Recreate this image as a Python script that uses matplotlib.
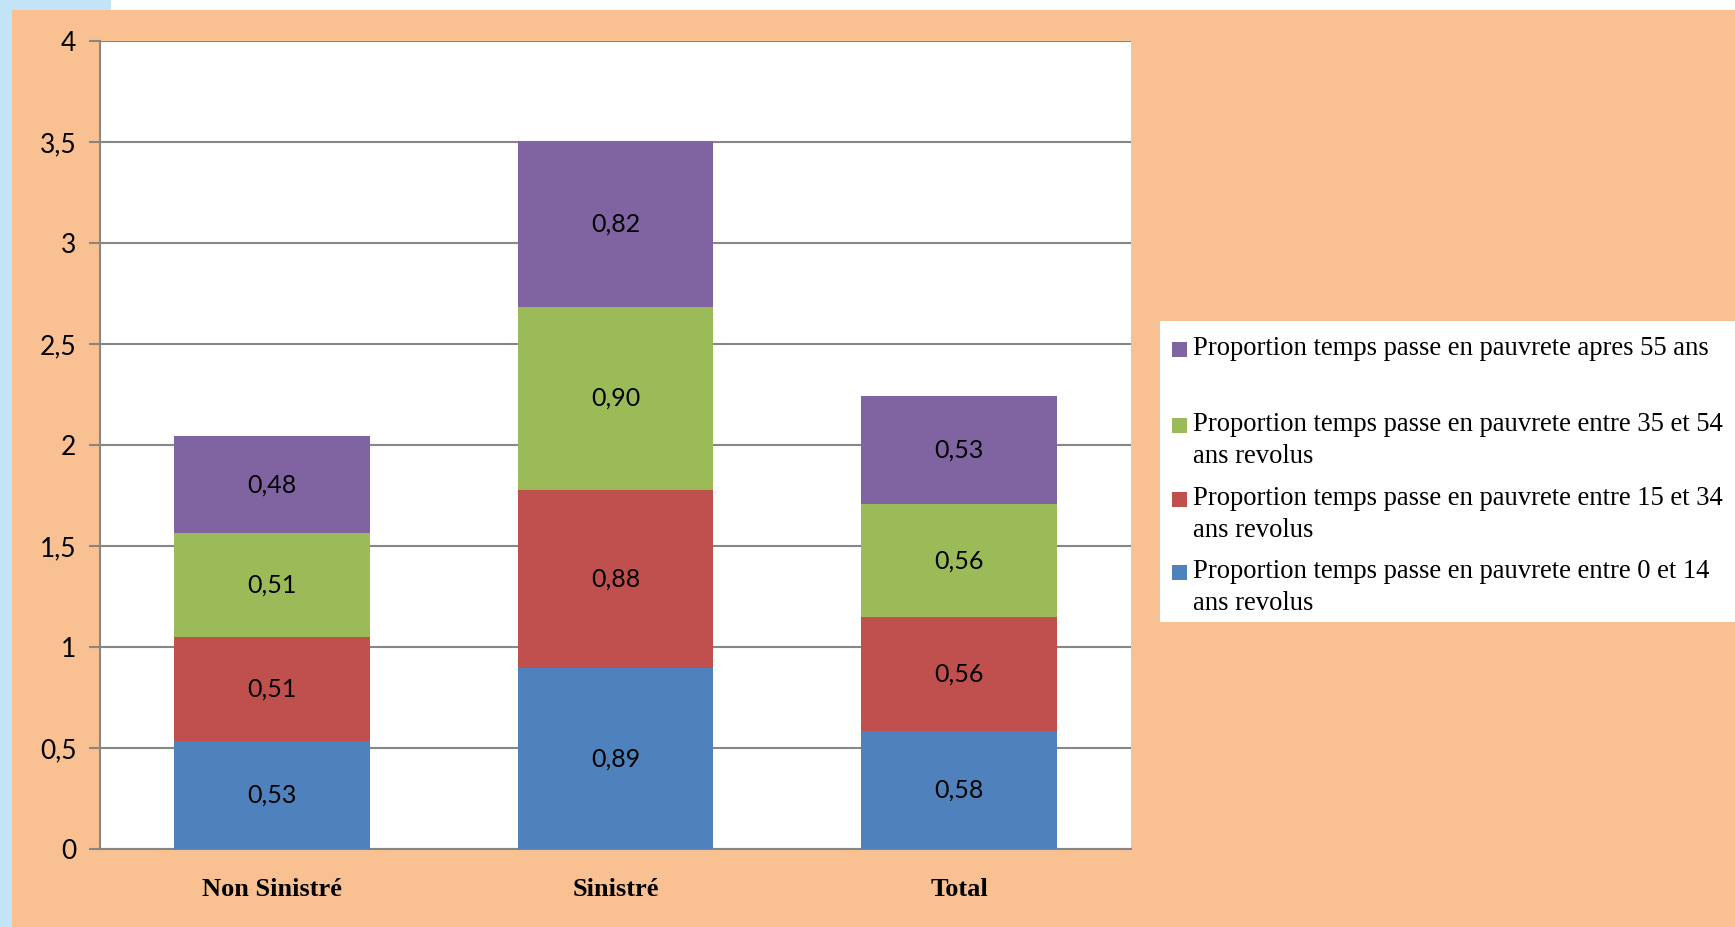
import matplotlib
matplotlib.use("Agg")
import matplotlib.pyplot as plt
from matplotlib.patches import Rectangle, Circle
import numpy as np

categories = ["Non Sinistré", "Sinistré", "Total"]
series_labels = [
    "Proportion temps passe en pauvrete entre 0 et 14\nans revolus",
    "Proportion temps passe en pauvrete entre 15 et 34\nans revolus",
    "Proportion temps passe en pauvrete entre 35 et 54\nans revolus",
    "Proportion temps passe en pauvrete apres 55 ans",
]
v_0_14 = [0.534, 0.894, 0.584]
v_15_34 = [0.514, 0.884, 0.564]
v_35_54 = [0.514, 0.904, 0.559]
v_55 = [0.484, 0.824, 0.534]
series = [v_0_14, v_15_34, v_35_54, v_55]
colors = ["#4F81BD", "#C0504D", "#9BBB59", "#8064A2"]
yticks = [0, 0.5, 1, 1.5, 2, 2.5, 3, 3.5, 4]

W, H = 1735, 927
fig = plt.figure(figsize=(W / 100, H / 100), dpi=100, facecolor="white")

# background decorations
def px_rect(x0, y0, x1, y1, color, z=0):
    fig.patches.append(Rectangle((x0 / W, 1 - y1 / H), (x1 - x0) / W, (y1 - y0) / H,
                                 transform=fig.transFigure, facecolor=color,
                                 edgecolor="none", zorder=z))

px_rect(0, 0, 12, H, "#C3E4F6", z=-3)
px_rect(0, 0, 111, 10, "#C3E4F6", z=-3)
px_rect(12, 10, W, H, "#F9C192", z=-2)

ax = fig.add_axes([100 / W, 1 - 849 / H, (1131 - 100) / W, (849 - 41) / H])
ax.set_zorder(5)
ax.set_facecolor("white")

x = np.arange(len(categories))
bottom = np.zeros(len(categories))
for vals, col in zip(series, colors):
    vals = np.array(vals)
    ax.bar(x, vals, width=0.57, bottom=bottom, color=col, zorder=3)
    for xi, b, v in zip(x, bottom, vals):
        ax.text(xi, b + v / 2, f"{v:.2f}".replace(".", ","), ha="center", va="center",
                fontsize=18, family="Lato", color="black", zorder=4)
    bottom += vals

ax.set_xlim(-0.5, 2.5)
ax.set_ylim(0, 4)
ax.set_yticks(yticks)
ax.set_yticklabels([f"{t:g}".replace(".", ",") for t in yticks], fontsize=19, family="Lato")
ax.tick_params(axis="y", length=8, width=1.5, color="#868686", pad=9)
ax.tick_params(axis="x", length=0, pad=21)
ax.set_xticks(x)
ax.set_xticklabels(categories, fontsize=19, family="Liberation Serif", fontweight="bold")
ax.grid(axis="y", color="#868686", linewidth=1.5, zorder=1)
for s in ["top", "right"]:
    ax.spines[s].set_visible(False)
for s in ["left", "bottom"]:
    ax.spines[s].set_color("#868686")
    ax.spines[s].set_linewidth(1.5)

# legend (manual, Excel style)
px_rect(1160, 321, W, 622, "white", z=-1)
entry_y = [572, 499, 425, 349]  # first line centres, in pixels from top
for lab, col, yy in zip(series_labels, colors, entry_y):
    px_rect(1172, yy - 7, 1187, yy + 8, col, z=2)
    fig.text(1193 / W, 1 - (yy - 13) / H, lab, ha="left", va="top", fontsize=19.2,
             family="Liberation Serif", linespacing=1.38, zorder=3)

fig.savefig("out.png", dpi=100, facecolor=fig.get_facecolor())
